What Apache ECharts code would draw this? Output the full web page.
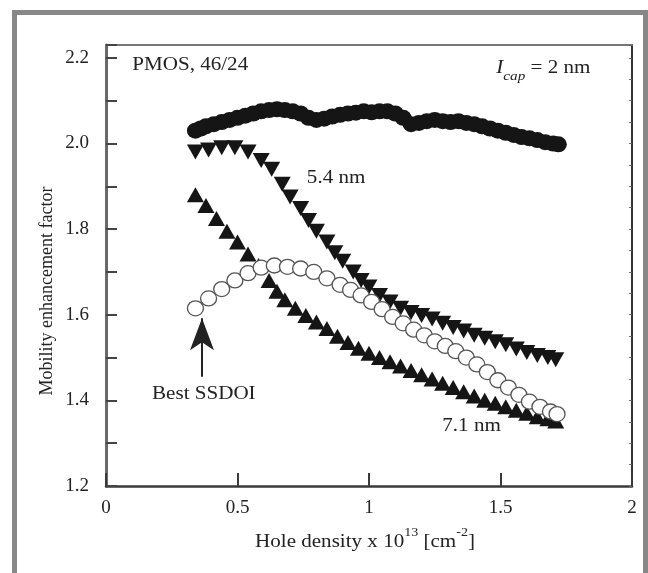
<!DOCTYPE html>
<html><head><meta charset="utf-8">
<script src="https://cdn.jsdelivr.net/npm/echarts@6.0.0/dist/echarts.min.js"></script>
<style>html,body{margin:0;padding:0;background:#fff}#c{width:648px;height:573px}</style>
</head><body><div id="c"></div><script>
// ---- data ----
const cap2X = [0.34,0.36,0.38,0.41,0.44,0.47,0.50,0.53,0.56,0.59,0.62,0.65,0.68,0.71,0.74,0.77,0.80,0.83,0.86,0.89,0.92,0.95,0.98,1.01,1.04,1.07,1.10,1.13,1.16,1.19,1.22,1.25,1.28,1.31,1.34,1.37,1.40,1.43,1.46,1.49,1.52,1.55,1.58,1.61,1.64,1.67,1.70,1.72];
const cap2Y = [2.03,2.035,2.04,2.045,2.05,2.055,2.06,2.065,2.07,2.075,2.078,2.08,2.078,2.075,2.07,2.06,2.055,2.058,2.063,2.067,2.07,2.072,2.075,2.073,2.075,2.075,2.07,2.06,2.045,2.048,2.052,2.055,2.052,2.05,2.052,2.048,2.045,2.04,2.035,2.03,2.025,2.02,2.015,2.012,2.008,2.003,2.0,1.998];
const nm54X = [0.34,0.39,0.44,0.49,0.54,0.59,0.63,0.67,0.70,0.74,0.77,0.80,0.84,0.87,0.90,0.94,0.97,1.00,1.04,1.08,1.12,1.16,1.20,1.24,1.28,1.32,1.36,1.40,1.44,1.48,1.52,1.56,1.60,1.64,1.68,1.71];
const nm54Y = [1.98,1.985,1.99,1.99,1.98,1.96,1.94,1.905,1.875,1.848,1.82,1.795,1.77,1.745,1.725,1.70,1.68,1.665,1.645,1.63,1.615,1.605,1.598,1.59,1.58,1.57,1.562,1.552,1.545,1.537,1.53,1.52,1.512,1.505,1.50,1.495];
const nm71X = [0.34,0.38,0.42,0.46,0.50,0.54,0.58,0.62,0.65,0.68,0.72,0.76,0.80,0.84,0.88,0.92,0.96,1.00,1.04,1.08,1.12,1.16,1.20,1.24,1.28,1.32,1.36,1.40,1.44,1.48,1.52,1.56,1.60,1.64,1.68,1.71];
const nm71Y = [1.88,1.855,1.825,1.795,1.77,1.742,1.715,1.68,1.655,1.635,1.615,1.598,1.583,1.568,1.55,1.535,1.522,1.51,1.50,1.49,1.48,1.47,1.46,1.45,1.44,1.43,1.42,1.41,1.40,1.393,1.385,1.377,1.37,1.362,1.357,1.352];
const ssdoiX = [0.34,0.39,0.44,0.49,0.54,0.59,0.64,0.69,0.74,0.79,0.84,0.89,0.93,0.97,1.01,1.05,1.09,1.13,1.17,1.21,1.25,1.29,1.33,1.37,1.41,1.45,1.49,1.53,1.57,1.61,1.65,1.69,1.715];
const ssdoiY = [1.615,1.638,1.66,1.68,1.697,1.71,1.715,1.712,1.708,1.70,1.685,1.67,1.658,1.645,1.63,1.613,1.595,1.58,1.565,1.552,1.538,1.527,1.515,1.50,1.484,1.466,1.447,1.43,1.413,1.397,1.385,1.374,1.368];
const xTicks = [0,0.5,1,1.5,2];
const yLabels = [1.2,1.4,1.6,1.8,2.0,2.2];
const arrowFrom = [0.365,1.455];
const arrowTo = [0.365,1.592];

const FONT = "'Liberation Serif','Times New Roman',serif";
const pair = (xs, ys) => xs.map((x, i) => [x, ys[i]]);
const chart = echarts.init(document.getElementById('c'), null, {renderer:'canvas'});

const yLabelFmt = v => {
  const hit = yLabels.find(l => Math.abs(l - v) < 1e-6);
  return hit === undefined ? '' : hit.toFixed(1);
};

chart.setOption({
  animation:false,
  backgroundColor:'#fff',
  grid:{left:106, right:16, top:45, bottom:87},
  xAxis:[{
    type:'value', min:xTicks[0], max:xTicks[xTicks.length-1], interval:0.5, position:'bottom',
    axisLine:{show:true, onZero:false, lineStyle:{color:'#3a3a3a', width:2.5}},
    axisTick:{show:true, inside:true, length:13, lineStyle:{color:'#3a3a3a', width:2}},
    axisLabel:{fontFamily:FONT, fontSize:19, color:'#222', margin:13,
      formatter: v => String(+v.toFixed(1))},
    splitLine:{show:false}
  },{
    type:'value', min:0, max:2, position:'top',
    axisLine:{show:true, onZero:false, lineStyle:{color:'#777', width:2}},
    axisTick:{show:false}, axisLabel:{show:false}, splitLine:{show:false}
  }],
  yAxis:[{
    type:'value', min:1.2, max:2.23, interval:0.1, position:'left',
    axisLine:{show:true, onZero:false, lineStyle:{color:'#6a6a6a', width:3}},
    axisTick:{show:true, inside:true, length:11, lineStyle:{color:'#444', width:2}},
    axisLabel:{fontFamily:FONT, fontSize:19, color:'#222', margin:17, formatter:yLabelFmt, showMaxLabel:true},
    splitLine:{show:false}
  },{
    type:'value', min:1.2, max:2.23, interval:0.05, position:'right',
    axisLine:{show:true, onZero:false, lineStyle:{color:'#333', width:2}},
    axisTick:{show:true, inside:true, length:3, lineStyle:{color:'#666', width:1}},
    axisLabel:{show:false}, splitLine:{show:false}
  }],
  series:[
    {type:'scatter', name:'2 nm', data:pair(cap2X,cap2Y), symbol:'circle', symbolSize:[17,16],
     itemStyle:{color:'#151515', opacity:1}, z:2},
    {type:'scatter', name:'5.4 nm', data:pair(nm54X,nm54Y), symbol:'triangle', symbolRotate:180, symbolSize:[17,15],
     itemStyle:{color:'#151515', opacity:1}, z:3},
    {type:'scatter', name:'7.1 nm', data:pair(nm71X,nm71Y), symbol:'triangle', symbolSize:[17,15],
     itemStyle:{color:'#151515', opacity:1}, z:3},
    {type:'scatter', name:'Best SSDOI', data:pair(ssdoiX,ssdoiY), symbol:'circle', symbolSize:[16,15],
     itemStyle:{color:'#fff', borderColor:'#555', borderWidth:1.3, opacity:1}, z:4,
     markLine:{silent:true, symbol:['none','arrow'], symbolSize:[18,32],
       lineStyle:{color:'#222', width:2, type:'solid'}, label:{show:false},
       data:[[{coord:arrowFrom},{coord:arrowTo}]]}}
  ]
});

const P = (x, y) => chart.convertToPixel({gridIndex:0}, [x, y]);
const t54 = P(0.875, 1.919), t71 = P(1.39, 1.34), tBest = P(0.372, 1.415);
const tPmos = P(0.10, 2.183), tCap = P(1.842, 2.183);
const SX = 1.17;
const txt = (pos, text, align) => ({type:'text', x:pos[0], y:pos[1], scaleX:SX,
  style:{text, font:`18px ${FONT}`, fill:'#222', align:align||'center', verticalAlign:'middle'}});

chart.setOption({graphic:[
  {type:'rect', shape:{x:14.5, y:12.5, width:631, height:620}, style:{fill:'none', stroke:'#888', lineWidth:5}, z:100},
  txt(t54,'5.4 nm'), txt(t71,'7.1 nm'), txt(tBest,'Best SSDOI'),
  txt(tPmos,'PMOS, 46/24','left'),
  {type:'text', x:tCap[0], y:tCap[1]+3, scaleX:SX, style:{
    text:'{i|I}{s|cap}{n| = 2 nm}', align:'right', verticalAlign:'middle',
    rich:{
      i:{font:`italic 18px ${FONT}`, fill:'#222', lineHeight:30},
      s:{font:`italic 13px ${FONT}`, fill:'#222', verticalAlign:'bottom', lineHeight:14},
      n:{font:`18px ${FONT}`, fill:'#222', lineHeight:30}
    }}},
  {type:'text', x:365, y:542, scaleX:SX, style:{
    text:'{a|Hole density x 10}{s|13}{a| [cm}{s|-2}{a|]}', align:'center', verticalAlign:'middle',
    rich:{
      a:{font:`18px ${FONT}`, fill:'#222', lineHeight:30},
      s:{font:`12px ${FONT}`, fill:'#222', verticalAlign:'top', lineHeight:14}
    }}},
  {type:'text', x:47, y:291, rotation:Math.PI/2, style:{
    text:'Mobility enhancement factor', font:`18px ${FONT}`, fill:'#222', align:'center', verticalAlign:'middle'}}
]});
</script></body></html>
